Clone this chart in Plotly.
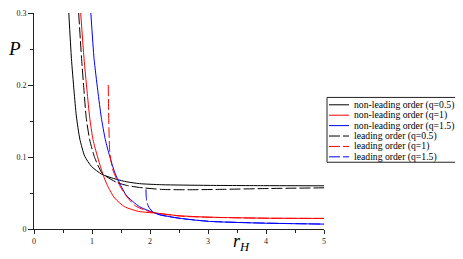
import plotly.graph_objects as go

# ---------------- data ----------------
r_nl_05 = [0.60, 0.645, 0.69, 0.73, 0.79, 0.875, 0.99, 1.17, 1.42, 1.60, 1.82, 2.20, 3.00, 4.00, 5.00]
P_nl_05 = [0.300, 0.237, 0.192, 0.157, 0.125, 0.101, 0.087, 0.076, 0.069, 0.0655, 0.063, 0.0615, 0.0606, 0.0602, 0.0600]

r_nl_1 = [0.805, 0.862, 0.914, 0.96, 1.017, 1.093, 1.16, 1.22, 1.28, 1.39, 1.56, 1.80, 2.17, 2.50, 3.00, 4.00, 5.00]
P_nl_1 = [0.300, 0.237, 0.192, 0.155, 0.124, 0.101, 0.083, 0.069, 0.058, 0.043, 0.031, 0.0245, 0.0215, 0.0185, 0.0165, 0.0150, 0.0147]

r_nl_15 = [0.98, 1.035, 1.10, 1.16, 1.23, 1.305, 1.39, 1.45, 1.59, 1.82, 2.17, 2.50, 3.03, 3.90, 5.00]
P_nl_15 = [0.300, 0.237, 0.192, 0.155, 0.124, 0.101, 0.079, 0.068, 0.047, 0.031, 0.020, 0.015, 0.0105, 0.0082, 0.0068]

r_lo_05 = [0.77, 0.82, 0.862, 0.90, 0.96, 1.047, 1.18, 1.42, 1.60, 1.82, 2.20, 2.60, 3.20, 4.00, 5.00]
P_lo_05 = [0.300, 0.237, 0.192, 0.155, 0.124, 0.099, 0.077, 0.065, 0.0605, 0.0577, 0.0550, 0.0545, 0.0550, 0.0562, 0.0572]

r_lo_1 = [1.28, 1.285, 1.292, 1.305, 1.33, 1.36, 1.42, 1.48, 1.59, 1.75, 2.00, 2.50, 3.00, 4.00, 5.00]
P_lo_1 = [0.200, 0.170, 0.140, 0.108, 0.093, 0.082, 0.070, 0.060, 0.046, 0.032, 0.024, 0.018, 0.0163, 0.0150, 0.0147]

r_lo_15 = [1.930, 1.935, 1.950, 1.990, 2.05, 2.15, 2.50, 3.00, 4.00, 5.00]
P_lo_15 = [0.055, 0.045, 0.036, 0.029, 0.024, 0.020, 0.0150, 0.0108, 0.0082, 0.0068]

labels = ["non-leading order (q=0.5)", "non-leading order (q=1)", "non-leading order (q=1.5)",
          "leading order (q=0.5)", "leading order (q=1)", "leading order (q=1.5)"]

x_tickvals = [0, 1, 2, 3, 4, 5]
y_tickvals = [0, 0.1, 0.2, 0.3]
y_ticktext = ["0", "0.1", "0.2", "0.3"]

# ---------------- figure ----------------
series = [
    (r_nl_05, P_nl_05, "black", "solid"),
    (r_nl_1, P_nl_1, "red", "solid"),
    (r_nl_15, P_nl_15, "blue", "solid"),
    (r_lo_05, P_lo_05, "black", "11px,3px"),
    (r_lo_1, P_lo_1, "red", "11px,3px"),
    (r_lo_15, P_lo_15, "blue", "11px,3px"),
]

fig = go.Figure()
for (xs, ys, col, dash), name in zip(series, labels):
    fig.add_trace(go.Scatter(x=xs, y=ys, mode="lines", name=name,
                             line=dict(color=col, width=1, dash=dash, shape="spline", smoothing=0.6),
                             showlegend=False))

FONT = "Liberation Serif"
OFF = 8  # page body margin
W, H = 463 - OFF, 259 - OFF
L, R, T, B = 26, 139, 1, 30
PW, PH = W - L - R, H - T - B


def px(x):  # page pixel -> paper x
    return (x - OFF - L) / PW


def py(y):  # page pixel -> paper y
    return (H - B - (y - OFF)) / PH


shapes = []
annotations = []
# legend box
shapes.append(dict(type="rect", xref="paper", yref="paper",
                   x0=px(327), x1=px(458), y0=py(161), y1=py(95),
                   line=dict(color="#222", width=1), fillcolor="white"))
for i, ((xs, ys, col, dash), name) in enumerate(zip(series, labels)):
    yc = 102.5 + 10.6 * i
    shapes.append(dict(type="line", xref="paper", yref="paper",
                       x0=px(329), x1=px(349), y0=py(yc), y1=py(yc),
                       line=dict(color=col, width=1, dash=dash)))
    annotations.append(dict(text=name, xref="paper", yref="paper", x=px(352), y=py(yc),
                            xanchor="left", yanchor="middle", showarrow=False,
                            font=dict(family=FONT, size=9.7, color="black")))

annotations.append(dict(text="<i>P</i>", xref="paper", yref="paper", x=px(14), y=py(45),
                        xanchor="center", yanchor="middle", showarrow=False,
                        font=dict(family=FONT, size=19, color="black")))
annotations.append(dict(text="<i>r</i><sub><i>H</i></sub>", xref="paper", yref="paper", x=px(241), y=py(243),
                        xanchor="center", yanchor="middle", showarrow=False,
                        font=dict(family=FONT, size=18, color="black")))

fig.update_layout(
    width=W, height=H,
    margin=dict(l=L, r=R, t=T, b=B),
    plot_bgcolor="white", paper_bgcolor="white",
    shapes=shapes, annotations=annotations,
    showlegend=False,
)
fig.update_xaxes(range=[0, 5], showgrid=False, zeroline=False, showline=True, linecolor="#222", linewidth=1,
                 ticks="outside", ticklen=4, tickcolor="#222", tickvals=x_tickvals,
                 ticklabeloverflow="allow",
                 tickfont=dict(family=FONT, size=8, color="#222"),
                 minor=dict(dtick=0.5, ticks="outside", ticklen=3, tickcolor="#222"))
fig.update_yaxes(range=[0, 0.3], showgrid=False, zeroline=False, showline=True, linecolor="#222", linewidth=1,
                 ticks="outside", ticklen=5, tickcolor="#222", tickvals=y_tickvals, ticktext=y_ticktext,
                 ticklabeloverflow="allow",
                 tickfont=dict(family=FONT, size=8, color="#222"),
                 minor=dict(dtick=0.05, ticks="outside", ticklen=3, tickcolor="#222"))

fig.write_html("out.html")
